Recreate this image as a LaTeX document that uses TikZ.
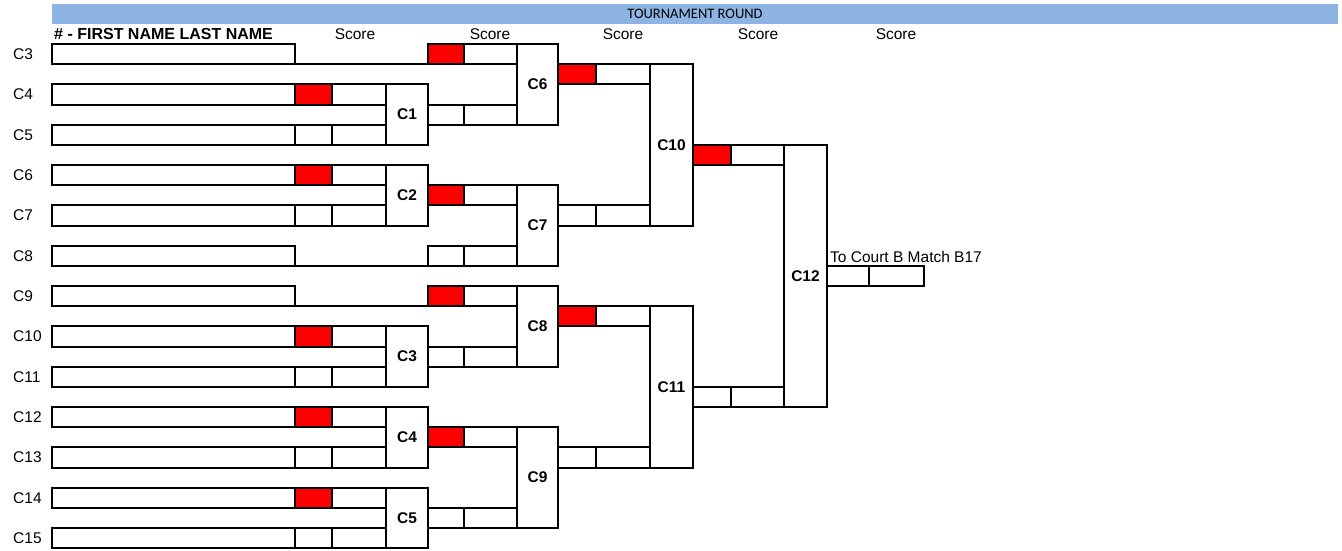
\documentclass[tikz,border=0pt]{standalone}
\usepackage{fontspec}
\setmainfont{Liberation Sans}
\newfontfamily\calib{Carlito}
\definecolor{barblue}{RGB}{142,180,227}
\definecolor{cellred}{RGB}{255,0,0}
% name, x1, x2, row1, row2, style, text
\newcommand\bcell[7]{\node[#6, minimum width={(#3)-(#2)}, minimum height={((#5)-(#4))*20.17}] (#1) at ({((#2)+(#3))/2},{44+20.17*((#4)+(#5))/2}) {#7};}
\begin{document}
\begin{tikzpicture}[x=1pt,y=-1pt,
  txt/.style={font=\fontsize{15.5}{18}\selectfont},
  cellst/.style={draw=black, line width=2pt, inner sep=0pt, outer sep=0pt},
  redcell/.style={cellst, fill=cellred},
  matchbox/.style={cellst, font=\fontsize{15.5}{18}\selectfont\bfseries},
  plab/.style={txt, anchor=west, inner sep=0pt},
  link/.style={draw=black, line width=2pt},
]
\useasboundingbox (0,0) rectangle (1342,551);
% title bar
\node[fill=barblue, minimum width=1286, minimum height=20, inner sep=0pt,
      font=\calib\fontsize{14.5}{17}\selectfont] (bar) at (695,14) {TOURNAMENT ROUND};
% header row
\node[anchor=base west, inner sep=0pt, font=\fontsize{16}{18}\selectfont\bfseries] (hdr) at (54,39.5) {\# - FIRST NAME LAST NAME};
\foreach \x/\n in {355/1,490/2,623/3,758/4,896/5}
  \node[txt, anchor=base, inner sep=0pt] (score\n) at (\x,39.5) {Score};
% player name boxes and labels
\foreach \i in {0,...,12} {
  \pgfmathtruncatemacro\r{2*\i}
  \pgfmathtruncatemacro\c{\i+3}
  \bcell{n\i}{52}{295}{\r}{\r+1}{cellst}{}
  \node[plab] (lab\i) at (13,{44+20.17*(\r+0.5)}) {C\c};
}
% round 1 score cells
\foreach \i/\st in {1/redcell,2/cellst,3/redcell,4/cellst,7/redcell,8/cellst,9/redcell,10/cellst,11/redcell,12/cellst} {
  \pgfmathtruncatemacro\r{2*\i}
  \bcell{a\i}{295}{332}{\r}{\r+1}{\st}{}
  \bcell{b\i}{332}{386}{\r}{\r+1}{cellst}{}
}
% round 1 matches
\bcell{m1}{386}{428}{2}{5}{matchbox}{C1}
\bcell{m2}{386}{428}{6}{9}{matchbox}{C2}
\bcell{m3}{386}{428}{14}{17}{matchbox}{C3}
\bcell{m4}{386}{428}{18}{21}{matchbox}{C4}
\bcell{m5}{386}{428}{22}{25}{matchbox}{C5}
% round 2 score cells
\foreach \r/\st in {0/redcell,3/cellst,7/redcell,10/cellst,12/redcell,15/cellst,19/redcell,23/cellst} {
  \bcell{p\r a}{428}{464}{\r}{\r+1}{\st}{}
  \bcell{p\r b}{464}{517}{\r}{\r+1}{cellst}{}
}
% byes: lines under the name box
\draw[link] (n0.south east) -- (p0a.south west);
\draw[link] (n5.south east) -- (p10a.south west);
\draw[link] (n6.south east) -- (p12a.south west);
% round 2 matches
\bcell{m6}{517}{558}{0}{4}{matchbox}{C6}
\bcell{m7}{517}{558}{7}{11}{matchbox}{C7}
\bcell{m8}{517}{558}{12}{16}{matchbox}{C8}
\bcell{m9}{517}{558}{19}{24}{matchbox}{C9}
% round 3 score cells
\foreach \r/\st in {1/redcell,8/cellst,13/redcell,20/cellst} {
  \bcell{q\r a}{558}{596}{\r}{\r+1}{\st}{}
  \bcell{q\r b}{596}{650}{\r}{\r+1}{cellst}{}
}
% round 3 matches
\bcell{m10}{650}{693}{1}{9}{matchbox}{C10}
\bcell{m11}{650}{693}{13}{21}{matchbox}{C11}
% round 4 score cells
\foreach \r/\st in {5/redcell,17/cellst} {
  \bcell{t\r a}{693}{731}{\r}{\r+1}{\st}{}
  \bcell{t\r b}{731}{784}{\r}{\r+1}{cellst}{}
}
% final
\bcell{m12}{784}{827}{5}{18}{matchbox}{C12}
\bcell{fa}{827}{869}{11}{12}{cellst}{}
\bcell{fb}{869}{924}{11}{12}{cellst}{}
\node[txt, anchor=base west, inner sep=0pt] (tocourt) at (830,262) {To Court B Match B17};
\end{tikzpicture}
\end{document}
